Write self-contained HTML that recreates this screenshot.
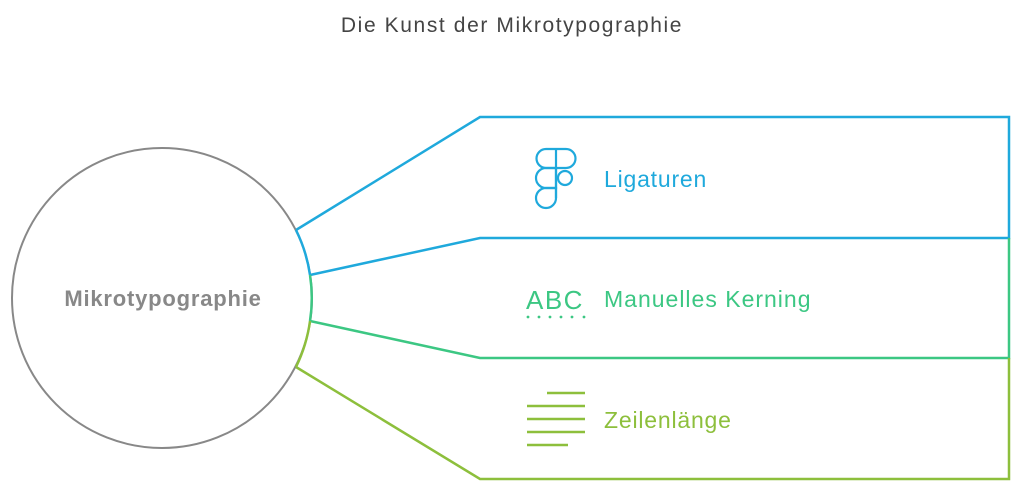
<!DOCTYPE html>
<html><head><meta charset="utf-8"><style>
body{margin:0;background:#fff;width:1024px;height:488px;overflow:hidden}
svg text{font-family:"Liberation Sans",sans-serif}
</style></head><body>
<svg width="1024" height="488" viewBox="0 0 1024 488">
<text x="512" y="32" text-anchor="middle" font-size="21" letter-spacing="1.6" fill="#444">Die Kunst der Mikrotypographie</text>
<circle cx="162" cy="298" r="150" fill="none" stroke="#888" stroke-width="2"/>
<text x="163" y="306" text-anchor="middle" font-size="22" letter-spacing="0.8" font-weight="bold" fill="#888">Mikrotypographie</text>
<g fill="none" stroke-width="2.5">
<path d="M296,230 L480,117 L1009,117 L1009,238 L480,238 L310,275" stroke="#1fa9dc"/>
<path d="M296,230 A150,150 0 0 1 310,275" stroke="#1fa9dc"/>
<path d="M1009,238 L1009,358 L480,358 L310,321" stroke="#3cc783"/>
<path d="M310,275 A150,150 0 0 1 310,321" stroke="#3cc783"/>
<path d="M1009,358 L1009,479 L480,479 L296,367" stroke="#8dbf3c"/>
<path d="M310,321 A150,150 0 0 1 296,367" stroke="#8dbf3c"/>
</g>
<g fill="none" stroke="#1fa9dc" stroke-width="2.2">
<path d="M546,149 H566 A9.5,9.5 0 0 1 566,168 H546 A9.5,9.5 0 0 1 546,149 Z"/>
<path d="M546,168 H556 V188 H546 A10,10 0 0 1 546,168 Z"/>
<path d="M556,188 V198 A10,10 0 1 1 546,188 Z"/>
<line x1="556" y1="149" x2="556" y2="198"/>
<circle cx="565" cy="178" r="7"/>
</g>
<text x="604" y="187" font-size="23" letter-spacing="0.8" fill="#1fa9dc">Ligaturen</text>
<text x="526" y="309" font-size="26" letter-spacing="1.5" fill="#3cc783">ABC</text>
<g fill="#3cc783"><circle cx="528" cy="317" r="1.4"/><circle cx="539" cy="317" r="1.4"/><circle cx="550" cy="317" r="1.4"/><circle cx="561" cy="317" r="1.4"/><circle cx="572" cy="317" r="1.4"/><circle cx="584" cy="317" r="1.4"/></g>
<text x="604" y="307" font-size="23" letter-spacing="1" fill="#3cc783">Manuelles Kerning</text>
<g stroke="#8dbf3c" stroke-width="2.5"><line x1="547" y1="393" x2="585" y2="393"/><line x1="527" y1="406" x2="585" y2="406"/><line x1="527" y1="419" x2="585" y2="419"/><line x1="527" y1="432" x2="585" y2="432"/><line x1="527" y1="445" x2="568" y2="445"/></g>
<text x="604" y="428" font-size="23" letter-spacing="0.8" fill="#8dbf3c">Zeilenlänge</text>
</svg>
</body></html>
